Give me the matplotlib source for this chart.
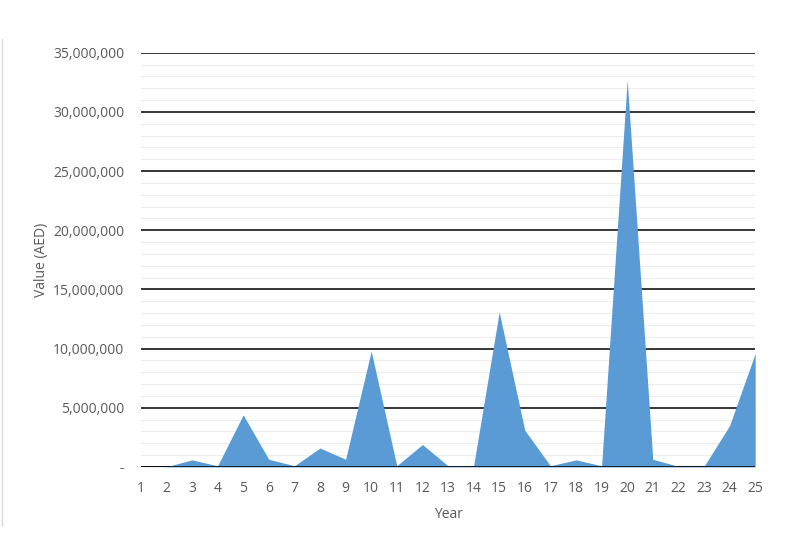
import matplotlib.pyplot as plt
from matplotlib.ticker import FuncFormatter, MultipleLocator
from matplotlib.lines import Line2D

plt.rcParams['font.family'] = ['Open Sans', 'DejaVu Sans']

# values
years = list(range(1, 26))
values = [0, 0.02e6, 0.6e6, 0.1e6, 4.4e6, 0.65e6, 0.1e6, 1.6e6, 0.65e6, 9.8e6,
          0.1e6, 1.9e6, 0.1e6, 0.1e6, 13.1e6, 3.1e6, 0.1e6, 0.6e6, 0.1e6, 32.7e6,
          0.65e6, 0.05e6, 0.05e6, 3.5e6, 9.6e6]

fig = plt.figure(figsize=(8, 5.5), dpi=100)
ax = fig.add_axes([0.176, 0.151, 0.768, 0.753])

ax.fill_between(years, values, 0, color='#5B9BD5', linewidth=0, zorder=3)

ax.set_xlim(1, 25)
ax.set_ylim(0, 35e6)
ax.set_xticks(years)
ax.yaxis.set_major_locator(MultipleLocator(5e6))
ax.yaxis.set_minor_locator(MultipleLocator(1e6))
ax.yaxis.set_major_formatter(FuncFormatter(lambda v, p: '-' if v == 0 else f'{int(v):,}'))

# gridlines
ax.grid(which='major', axis='y', color='black', linewidth=1.1, zorder=1)
ax.grid(which='minor', axis='y', color='#EDEDED', linewidth=0.8, zorder=0)
ax.set_axisbelow(True)
ax.axhline(0, color='black', linewidth=1.1, zorder=4)

for s in ax.spines.values():
    s.set_visible(False)
ax.tick_params(which='both', length=0)
ax.tick_params(axis='both', labelsize=10, labelcolor='#595959')
ax.tick_params(axis='x', pad=10)
ax.tick_params(axis='y', pad=12)

ax.set_xlabel('Year', fontsize=10, color='#595959', labelpad=8)
ax.set_ylabel('Value (AED)', fontsize=10, color='#595959', labelpad=3)

# thin border line on the left edge
fig.add_artist(Line2D([0.002, 0.002], [0.045, 0.93], color='#D9D9D9', linewidth=1))

fig.savefig('out.png', dpi=100)
